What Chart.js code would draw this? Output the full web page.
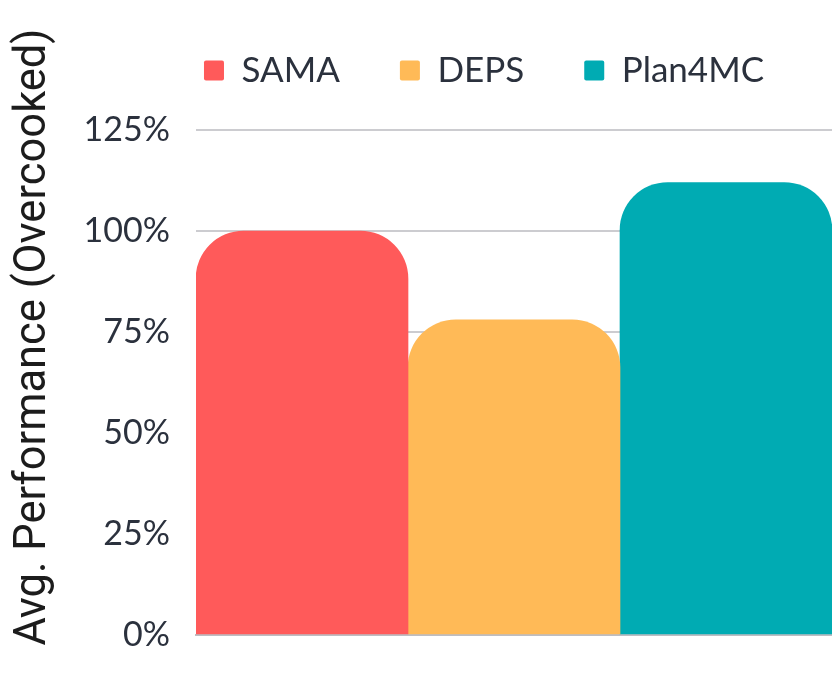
<!DOCTYPE html>
<html>
<head>
<meta charset="utf-8">
<script src="https://cdn.jsdelivr.net/npm/chart.js@4"></script>
<style>
html,body{margin:0;padding:0;background:#fff;}
#wrap{width:832px;height:674px;}
</style>
</head>
<body>
<div id="wrap"><canvas id="c" width="832" height="674"></canvas></div>
<script>
const categories = ["Overcooked"];
const seriesNames = ["SAMA", "DEPS", "Plan4MC"];
const samaValues = [100];
const depsValues = [78];
const plan4mcValues = [112];
const seriesColors = ["#FF5A5A", "#FFBA57", "#00ABB3"];
const yTicks = [0, 25, 50, 75, 100, 125];
const yTitle = "Avg. Performance (Overcooked)";

const seriesValues = [samaValues, depsValues, plan4mcValues];

const legendTune = {
  id: 'legendTune',
  afterInit(chart) {
    const l = chart.legend;
    const f = l.fit;
    l.fit = function () { this.maxWidth = 2000; f.call(this); this.height = 130; };
  },
  afterLayout(chart) {
    const l = chart.legend;
    l.left = 136;
    l.right = 832;
    l.width = l.right - l.left;
    l.top = -7;
  }
};

new Chart(document.getElementById('c'), {
  type: 'bar',
  data: {
    labels: categories,
    datasets: seriesNames.map((n, i) => ({
      label: n,
      data: seriesValues[i],
      backgroundColor: seriesColors[i],
      borderWidth: 0,
      borderRadius: 48,
      barPercentage: 1,
      categoryPercentage: 1
    }))
  },
  options: {
    responsive: false,
    animation: false,
    devicePixelRatio: 1,
    layout: { padding: 0, autoPadding: false },
    plugins: {
      tooltip: { enabled: false },
      title: {
        display: true,
        position: 'left',
        fullSize: true,
        text: yTitle,
        color: '#1C1C1C',
        font: { family: 'Roboto', size: 43.5, weight: 'normal', lineHeight: 1.2 },
        padding: { top: 8, bottom: 0 }
      },
      legend: {
        position: 'top',
        align: 'center',
        fullSize: false,
        labels: {
          boxWidth: 20,
          boxHeight: 20,
          useBorderRadius: true,
          borderRadius: 2,
          padding: 60,
          color: '#2B313D',
          font: { family: 'Lato', size: 35 }
        }
      }
    },
    scales: {
      x: {
        type: 'category',
        ticks: { display: false },
        grid: { display: false },
        border: { display: true, color: '#BDBDC2', width: 2 },
        afterFit(scale) { scale.height = 39; scale.paddingLeft = 0; scale.paddingRight = 0; }
      },
      y: {
        min: 0,
        max: 125,
        afterBuildTicks(scale) { scale.ticks = yTicks.map(v => ({ value: v })); },
        afterFit(scale) {
          scale.width = 196 - (43.5 * 1.2 + 8);
          scale.paddingTop = 0;
          scale.paddingBottom = 0;
        },
        ticks: {
          callback: v => v + '%',
          color: '#2B313D',
          font: { family: 'Lato', size: 34 },
          padding: 26
        },
        grid: { color: '#CCCCD0', lineWidth: 2, drawTicks: false },
        border: { display: false }
      }
    }
  },
  plugins: [legendTune]
});
</script>
</body>
</html>
